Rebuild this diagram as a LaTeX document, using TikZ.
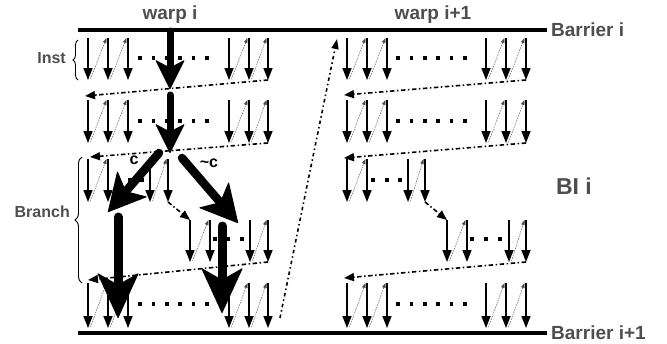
\documentclass[tikz,border=0pt]{standalone}
\usepackage{fontspec}
\newfontfamily\labfont{Liberation Sans}
\usetikzlibrary{arrows.meta,decorations.pathreplacing}
\definecolor{labgray}{RGB}{78,78,78}
\tikzset{
  barrier/.style={line width=4pt},
  inst/.style={line width=1.5pt,-{Triangle[width=9pt,length=12pt]}},
  hop/.style={line width=0.45pt, dash pattern=on 1.5pt off 1pt, black!70, -{Triangle[width=3.5pt,length=5pt]}},
  flow/.style={line width=1.6pt, dash pattern=on 4.5pt off 2.5pt on 1.5pt off 2.5pt, -{Triangle[width=8pt,length=10pt]}},
  ret/.style={line width=1.6pt, dash pattern=on 3.5pt off 3pt on 1.5pt off 3pt, -{Triangle[width=7pt,length=10pt]}},
  bigarrow/.style={line width=7pt, line cap=round, -{Stealth[width=30pt,length=30pt,inset=8pt,round,line width=1pt]}},
  diagarrow/.style={line width=8.5pt, line cap=round, -{Stealth[width=40pt,length=38pt,inset=10pt,round,line width=1pt]}},
  hugearrow/.style={line width=9pt, line cap=round, -{Stealth[width=42pt,length=46pt,inset=12pt,round,line width=1pt]}},
  lab/.style={font=\labfont\bfseries\fontsize{19}{21}\selectfont, text=labgray, inner sep=0pt},
  smalllab/.style={font=\labfont\bfseries\fontsize{16}{18}\selectfont, text=labgray, inner sep=0pt},
  biglab/.style={font=\labfont\bfseries\fontsize{23}{25}\selectfont, text=labgray, inner sep=0pt},
  clab/.style={font=\labfont\bfseries\fontsize{16}{17}\selectfont, inner sep=0pt},
  bracestyle/.style={line width=0.9pt, decorate},
}
% #1 name, #2 top y, #3 bottom y, #4 list of x
\newcommand\instrow[4]{%
  \foreach \xx [count=\kk] in {#4} {
    \coordinate (#1-\kk-t) at (\xx,#2);
    \coordinate (#1-\kk-b) at (\xx,#3);
    \draw[inst] (#1-\kk-t) -- (#1-\kk-b);
  }%
}
\newcommand\hopar[3]{\draw[hop] ([xshift=2.5pt,yshift=1pt]#1-#2-b) -- ([xshift=-1.5pt]#1-#3-t);}
\newcommand\dotsq[2]{\fill ({#1-1.8},{#2-1.8}) rectangle ++(3.6,3.6);}
\begin{document}
\begin{tikzpicture}[x=1pt,y=-1pt]
\useasboundingbox (0,0) rectangle (667,343);

% barriers
\coordinate (b1l) at (78,30); \coordinate (b1r) at (547,30);
\coordinate (b2l) at (78,333); \coordinate (b2r) at (547,333);
\draw[barrier] (b1l) -- (b1r);
\draw[barrier] (b2l) -- (b2r);
\node[lab, anchor=west] (bari) at (551,30) {Barrier i};
\node[lab, anchor=west] (barii) at (551,333) {Barrier i+1};
\node[lab] (warpi) at (170,15) {warp i};
\node[lab] (warpii) at (433,15) {warp i+1};
\node[biglab] (bli) at (574,186) {BI i};

% instruction rows, warp i
\instrow{La}{38}{80}{88,108,128,229,249,268}
\instrow{Lb}{100}{143}{88,108,128,229,249,268}
\instrow{Lc}{159}{202}{88,108,150,168}
\instrow{Ld}{220}{262}{190,210,250,268}
\instrow{Le}{283}{328}{88,108,128,229,249,268}
% warp i+1
\instrow{Ra}{38}{80}{347,367,387,486,506,526}
\instrow{Rb}{100}{143}{347,367,387,486,506,526}
\instrow{Rc}{159}{202}{347,367,408,425}
\instrow{Rd}{220}{262}{447,467,509,526}
\instrow{Re}{283}{328}{347,367,387,486,506,526}

% thin hops
\foreach \r in {La,Lb,Le,Ra,Rb,Re} {
  \hopar{\r}{1}{2}\hopar{\r}{2}{3}\hopar{\r}{4}{5}\hopar{\r}{5}{6}
}
\foreach \r in {Lc,Ld,Rc,Rd} {
  \hopar{\r}{1}{2}\hopar{\r}{3}{4}
}

% dots
\foreach \i in {0,...,5} {
  \dotsq{140+13.4*\i}{58}
  \dotsq{140+13.4*\i}{121}
  \dotsq{140+13.4*\i}{304}
  \dotsq{398+13.4*\i}{58}
  \dotsq{398+13.4*\i}{121}
  \dotsq{398+13.4*\i}{304}
}
\foreach \x in {118,130,142} {\dotsq{\x}{180}}
\foreach \x in {215,228,242} {\dotsq{\x}{239}}
\foreach \x in {373,387,400} {\dotsq{\x}{180}}
\foreach \x in {472,486,500} {\dotsq{\x}{239}}

% control flow (dash-dot)
\draw[flow] (La-6-b) -- ([xshift=-3pt,yshift=4pt]Lb-1-t);
\draw[flow] (Lb-6-b) -- ([xshift=2pt,yshift=2pt]Lc-1-t);
\draw[flow] (Lc-4-b) -- (Ld-1-t);
\draw[flow] (Ld-4-b) -- ([xshift=0pt,yshift=3pt]Le-1-t);
\draw[flow] (Ra-6-b) -- ([xshift=-3pt,yshift=5pt]Rb-1-t);
\draw[flow] (Rb-6-b) -- ([xshift=-3pt,yshift=1pt]Rc-1-t);
\draw[flow] (Rc-4-b) -- (Rd-1-t);
\draw[flow] (Rd-4-b) -- ([xshift=-3pt,yshift=5pt]Re-1-t);
\coordinate (rets) at (280,318);
\coordinate (rete) at (337,39);
\draw[ret] (rets) -- (rete);

% thick arrows
\coordinate (t1s) at (170,31); \coordinate (t1e) at (170,89);
\coordinate (t2s) at (170,95); \coordinate (t2e) at (170,153);
\coordinate (cs) at (159,153); \coordinate (ce) at (108,212);
\coordinate (ncs) at (182,158); \coordinate (nce) at (238,223);
\coordinate (vls) at (118,217); \coordinate (vle) at (118,318);
\coordinate (vrs) at (222,226); \coordinate (vre) at (222,313);
\draw[bigarrow] (t1s) -- (t1e);
\draw[bigarrow] (t2s) -- (t2e);
\draw[diagarrow] (cs) -- (ce);
\draw[diagarrow] (ncs) -- (nce);
\draw[hugearrow] (vls) -- (vle);
\draw[hugearrow] (vrs) -- (vre);
\node[clab] (clbl) at (134,160) {c};
\node[clab] (nclbl) at (209,163) {\textasciitilde c};

% braces
\draw[bracestyle, decoration={brace,amplitude=5pt}] (78,80) -- (78,40);
\node[smalllab, anchor=east] (inst) at (66,58) {Inst};
\draw[bracestyle, decoration={brace,amplitude=7pt}] (82,283) -- (82,157);
\node[smalllab, anchor=east] (branch) at (70,212) {Branch};
\end{tikzpicture}
\end{document}
